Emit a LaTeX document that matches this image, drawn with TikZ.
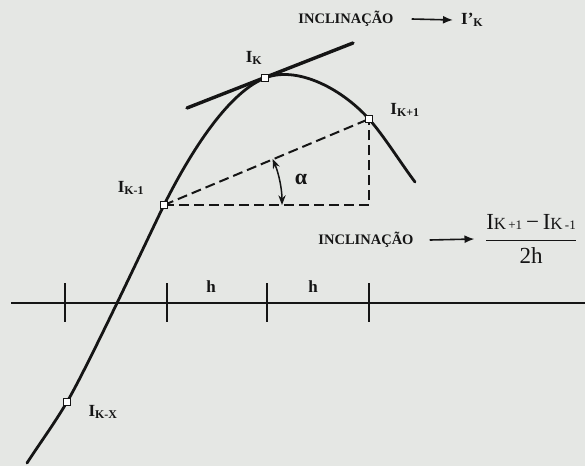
\documentclass[tikz,border=0pt]{standalone}
\usepackage{amsmath}
\usepackage{fontspec}
\setmainfont{Liberation Serif}
\usepackage{tikz}
\usetikzlibrary{arrows.meta,calc,positioning}
\usepackage{xcolor}
\definecolor{scanbg}{HTML}{E5E7E4}
\definecolor{ink}{HTML}{151515}

\begin{document}
\begin{tikzpicture}[
  x=1pt,y=-1pt,
  >=Stealth,
  curve/.style={draw=ink,line width=2.8pt,line cap=round},
  tangent/.style={draw=ink,line width=3.4pt,line cap=round},
  guide/.style={draw=ink,line width=2pt,dash pattern=on 10pt off 5pt},
  axisline/.style={draw=ink,line width=2.2pt},
  tickmark/.style={draw=ink,line width=2.4pt},
  sample/.style={draw=ink,fill=white,line width=1pt,rectangle,
                 minimum size=7.5pt,inner sep=0pt},
  ptlabel/.style={text=ink,font=\fontsize{17}{17}\selectfont\bfseries,inner sep=1pt},
  note/.style={text=ink,font=\fontsize{14.5}{15}\selectfont\bfseries,inner sep=1pt},
  pointer/.style={draw=ink,-{Latex[length=10pt,width=8pt]},line width=1.6pt}
]
\fill[scanbg] (0,0) rectangle (585,466);
\useasboundingbox (0,0) rectangle (585,466);

% sampled points of the curve
\coordinate (start) at (27,463);
\coordinate (kx)    at (67,402);
\coordinate (km1)   at (164,205);
\coordinate (k)     at (265,78);
\coordinate (kp1)   at (369,119);
\coordinate (stop)  at (415,182);
\coordinate (corner) at (kp1 |- km1);

% time axis with step h
\coordinate (ax0) at (11,303);
\coordinate (ax1) at (585,303);
\draw[axisline] (ax0) -- (ax1);
\foreach \tx in {65,167,267,369}
  \draw[tickmark] (\tx,283) -- (\tx,322);
\node[ptlabel] (h1) at (211,287) {h};
\node[ptlabel] (h2) at (313,287) {h};

% curve and tangent at I_K
\draw[curve] (start) .. controls (40,443) and (54,424) .. (kx)
  .. controls (87,368) and (147,240) .. (km1)
  .. controls (186,161) and (225,94) .. (k)
  .. controls (295,66) and (339,86) .. (kp1)
  .. controls (384,136) and (400,162) .. (stop);
\coordinate (tanA) at (187,108);
\coordinate (tanB) at (353,43);
\draw[tangent] (tanA) -- (tanB);

% central difference
\draw[guide] (km1) -- (kp1);
\draw[guide] (km1) -- (corner) -- (kp1);
\draw[<->,draw=ink,line width=1.5pt] ($(km1)+(118,0)$)
  arc[start angle=0,end angle=-23,radius=118];
\node[text=ink,font=\fontsize{22}{22}\selectfont\bfseries] (alpha) at (301,179) {α};

% sample markers
\node[sample] (nkx)  at (kx)  {};
\node[sample] (nkm1) at (km1) {};
\node[sample] (nk)   at (k)   {};
\node[sample] (nkp1) at (kp1) {};
\node[ptlabel] (lkx)  at ($(nkx)+(36,10)$)   {I\textsubscript{K-X}};
\node[ptlabel] (lkm1) at ($(nkm1)+(-33,-17)$) {I\textsubscript{K-1}};
\node[ptlabel] (lk)   at ($(nk)+(-11,-20)$)   {I\textsubscript{K}};
\node[ptlabel] (lkp1) at ($(nkp1)+(36,-9)$)   {I\textsubscript{K+1}};

% slope readings
\node[note] (incl1) at (346,19) {INCLINAÇÃO};
\node[ptlabel,anchor=west] (dk) at (460,20) {I'\textsubscript{K}};
\draw[pointer] ([xshift=17pt]incl1.east) -- ([xshift=-7pt]dk.west);
\node[note] (incl2) at (366,240) {INCLINAÇÃO};
\node[text=ink,font=\fontsize{23}{26}\selectfont] (diff) at (531,239)
  {$\dfrac{\text{I{\fontsize{17}{17}\selectfont K}{\fontsize{13}{13}\selectfont\,+1}\,−\,I{\fontsize{17}{17}\selectfont K}{\fontsize{13}{13}\selectfont\,-1}}}{\text{2h}}$};
\draw[pointer] ([xshift=15pt]incl2.east) -- ([xshift=-7pt]diff.west);
\end{tikzpicture}
\end{document}
